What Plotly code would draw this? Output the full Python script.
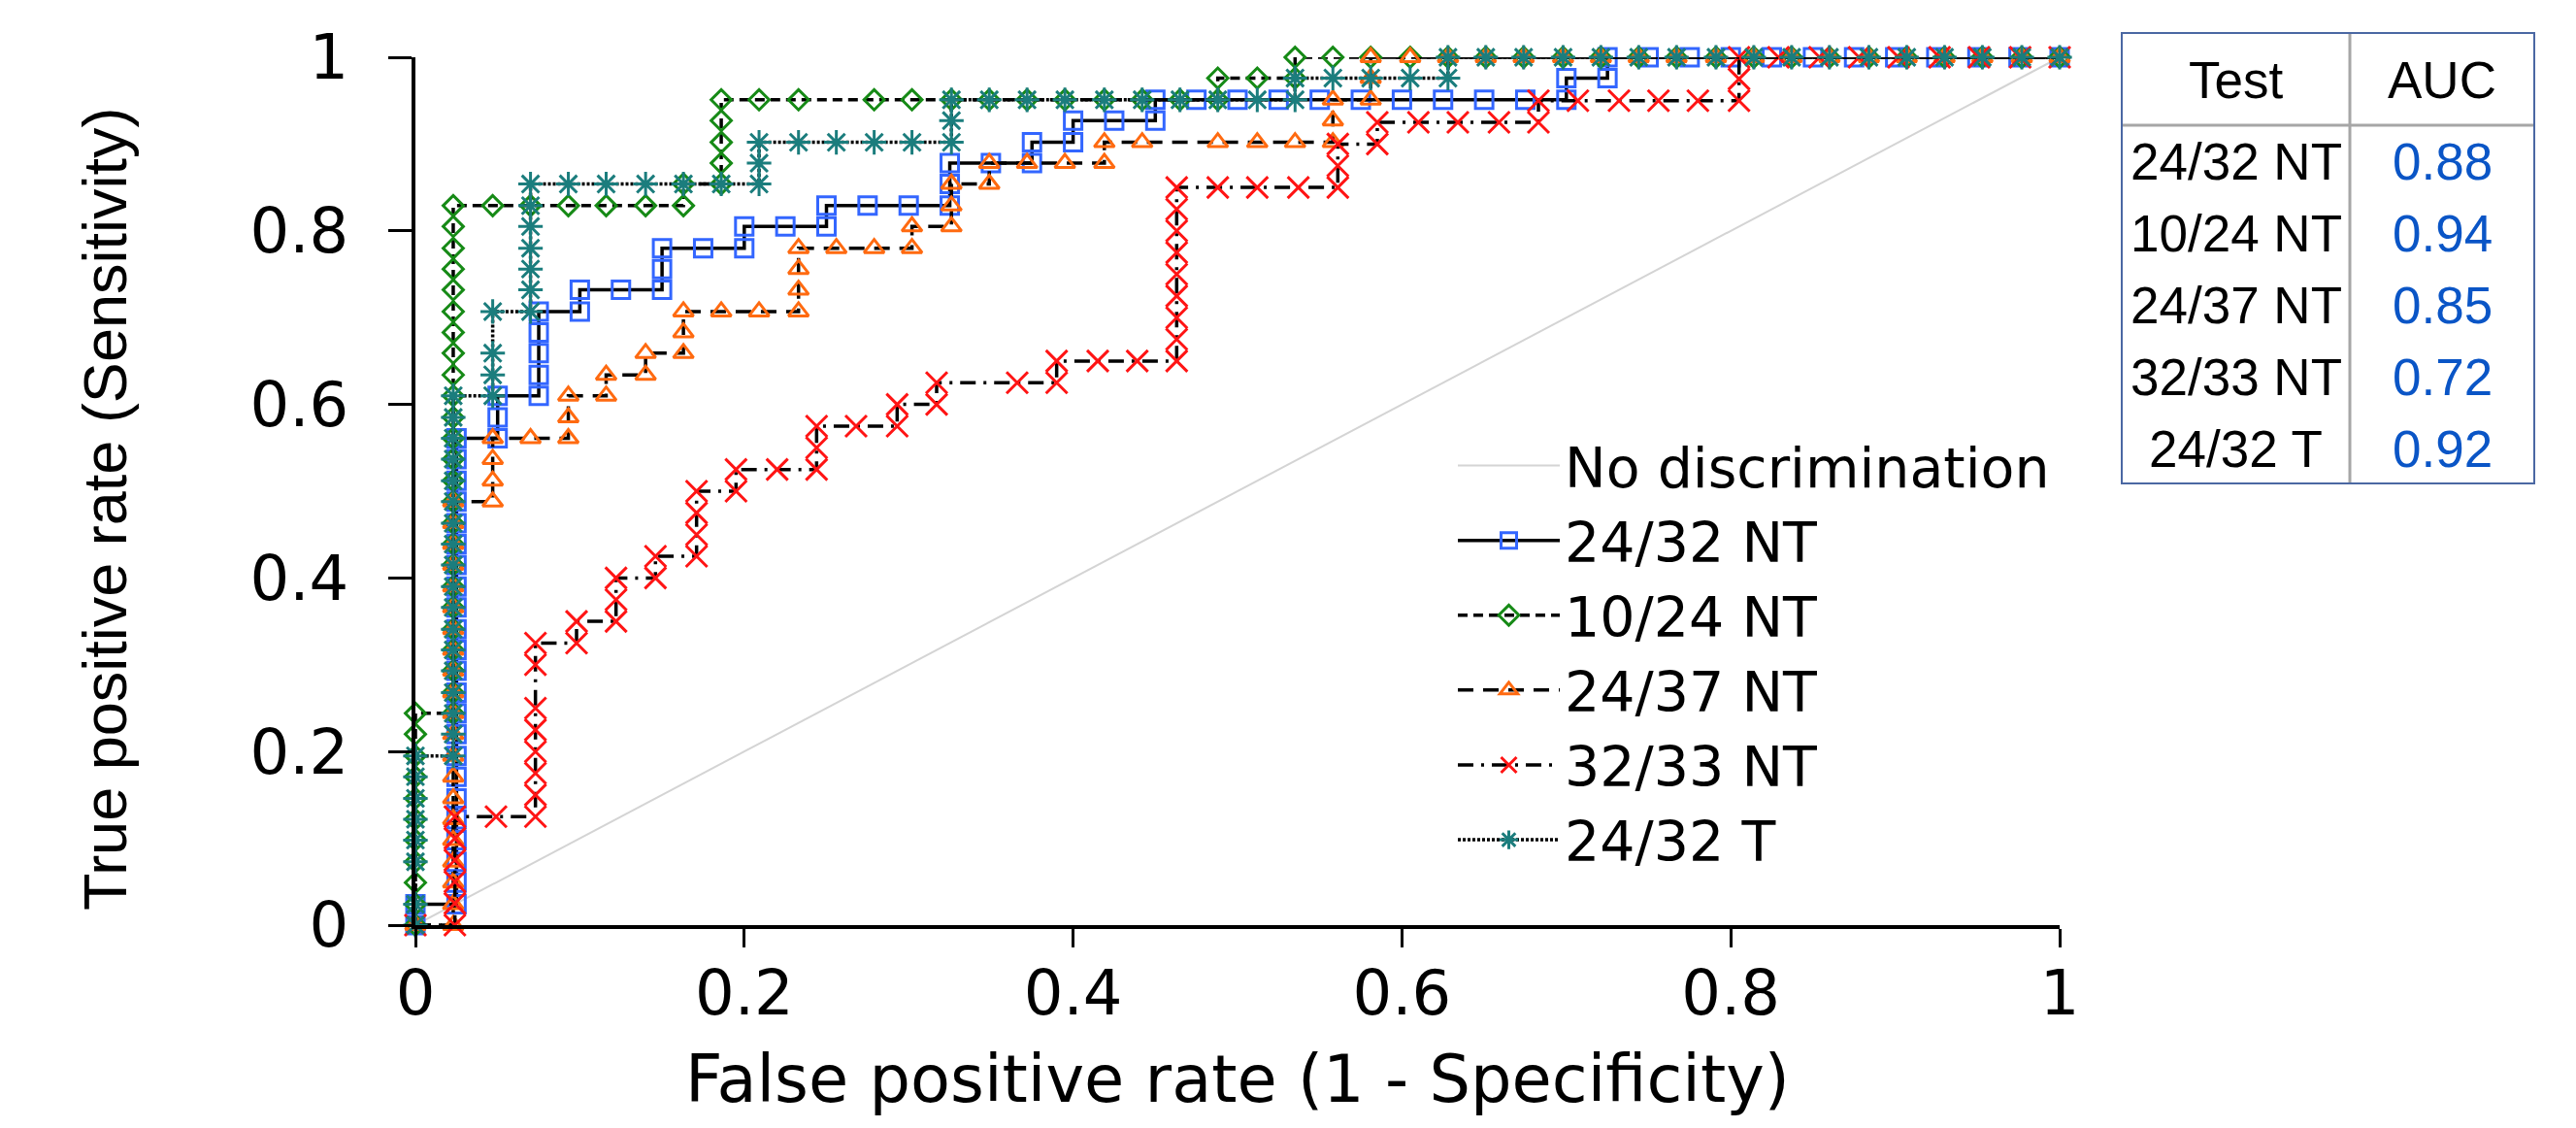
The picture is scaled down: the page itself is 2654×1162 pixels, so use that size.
import plotly.graph_objects as go

# ---------------- data ----------------
TESTS = ["24/32 NT", "10/24 NT", "24/37 NT", "32/33 NT", "24/32 T"]
AUC = [0.88, 0.94, 0.85, 0.72, 0.92]
TICKS = [0, 0.2, 0.4, 0.6, 0.8, 1]
TICK_LABELS = ["0", "0.2", "0.4", "0.6", "0.8", "1"]
DIAG_X = [0, 1]
DIAG_Y = [0, 1]

ROC_24_32_NT = [
    (0, 0), (0, 0.024), (0.025, 0.024), (0.025, 0.049), (0.025, 0.073), (0.025, 0.098), (0.025, 0.122),
    (0.025, 0.146), (0.025, 0.171), (0.025, 0.195), (0.025, 0.220), (0.025, 0.244), (0.025, 0.268),
    (0.025, 0.293), (0.025, 0.317), (0.025, 0.341), (0.025, 0.366), (0.025, 0.390), (0.025, 0.415),
    (0.025, 0.439), (0.025, 0.463), (0.025, 0.488), (0.025, 0.512), (0.025, 0.537), (0.025, 0.561),
    (0.050, 0.561), (0.050, 0.585), (0.050, 0.610), (0.075, 0.610), (0.075, 0.634), (0.075, 0.659),
    (0.075, 0.683), (0.075, 0.707), (0.100, 0.707), (0.100, 0.732), (0.125, 0.732), (0.150, 0.732),
    (0.150, 0.756), (0.150, 0.780), (0.175, 0.780), (0.200, 0.780), (0.200, 0.805), (0.225, 0.805),
    (0.250, 0.805), (0.250, 0.829), (0.275, 0.829), (0.300, 0.829), (0.325, 0.829), (0.325, 0.854),
    (0.325, 0.878), (0.350, 0.878), (0.375, 0.878), (0.375, 0.902), (0.400, 0.902), (0.400, 0.927),
    (0.425, 0.927), (0.450, 0.927), (0.450, 0.951), (0.475, 0.951), (0.500, 0.951), (0.525, 0.951),
    (0.550, 0.951), (0.575, 0.951), (0.600, 0.951), (0.625, 0.951), (0.650, 0.951), (0.675, 0.951),
    (0.700, 0.951), (0.700, 0.976), (0.725, 0.976), (0.725, 1), (0.750, 1), (0.775, 1), (0.800, 1),
    (0.825, 1), (0.850, 1), (0.875, 1), (0.900, 1), (0.925, 1), (0.950, 1), (0.975, 1), (1, 1),
]

ROC_10_24_NT = [
    (0, 0), (0, 0.024), (0, 0.049), (0, 0.073), (0, 0.098), (0, 0.122), (0, 0.146), (0, 0.171),
    (0, 0.195), (0, 0.220), (0, 0.244),
    (0.023, 0.244), (0.023, 0.268), (0.023, 0.293), (0.023, 0.317), (0.023, 0.341), (0.023, 0.366),
    (0.023, 0.390), (0.023, 0.415), (0.023, 0.439), (0.023, 0.463), (0.023, 0.488), (0.023, 0.512),
    (0.023, 0.537), (0.023, 0.561), (0.023, 0.585), (0.023, 0.610), (0.023, 0.634), (0.023, 0.659),
    (0.023, 0.683), (0.023, 0.707), (0.023, 0.732), (0.023, 0.756), (0.023, 0.780), (0.023, 0.805),
    (0.023, 0.829), (0.047, 0.829), (0.070, 0.829), (0.093, 0.829), (0.116, 0.829), (0.140, 0.829),
    (0.163, 0.829), (0.163, 0.854), (0.186, 0.854), (0.186, 0.878), (0.186, 0.902), (0.186, 0.927),
    (0.186, 0.951), (0.209, 0.951), (0.233, 0.951), (0.279, 0.951), (0.302, 0.951), (0.326, 0.951),
    (0.349, 0.951), (0.372, 0.951), (0.395, 0.951), (0.419, 0.951), (0.442, 0.951), (0.465, 0.951),
    (0.488, 0.951), (0.488, 0.976), (0.512, 0.976), (0.535, 0.976), (0.535, 1), (0.558, 1), (0.581, 1),
    (0.605, 1), (0.628, 1), (0.651, 1), (0.674, 1), (0.698, 1), (0.721, 1), (0.744, 1), (0.767, 1),
    (0.791, 1), (0.814, 1), (0.837, 1), (0.860, 1), (0.884, 1), (0.907, 1), (0.930, 1), (0.953, 1),
    (0.977, 1), (1, 1),
]

ROC_24_37_NT = [
    (0, 0), (0.023, 0), (0.023, 0.024), (0.023, 0.049), (0.023, 0.073), (0.023, 0.098), (0.023, 0.122),
    (0.023, 0.146), (0.023, 0.171), (0.023, 0.195), (0.023, 0.220), (0.023, 0.244), (0.023, 0.268),
    (0.023, 0.293), (0.023, 0.317), (0.023, 0.341), (0.023, 0.366), (0.023, 0.390), (0.023, 0.415),
    (0.023, 0.439), (0.023, 0.463), (0.023, 0.488),
    (0.047, 0.488), (0.047, 0.512), (0.047, 0.537), (0.047, 0.561), (0.070, 0.561), (0.093, 0.561),
    (0.093, 0.585), (0.093, 0.610), (0.116, 0.610), (0.116, 0.634), (0.140, 0.634), (0.140, 0.659),
    (0.163, 0.659), (0.163, 0.683), (0.163, 0.707), (0.186, 0.707), (0.209, 0.707), (0.233, 0.707),
    (0.233, 0.732), (0.233, 0.756), (0.233, 0.780), (0.256, 0.780), (0.279, 0.780), (0.302, 0.780),
    (0.302, 0.805), (0.326, 0.805), (0.326, 0.829), (0.326, 0.854), (0.349, 0.854), (0.349, 0.878),
    (0.372, 0.878), (0.395, 0.878), (0.419, 0.878), (0.419, 0.902), (0.442, 0.902), (0.488, 0.902),
    (0.512, 0.902), (0.535, 0.902), (0.558, 0.902), (0.558, 0.927), (0.558, 0.951), (0.581, 0.951),
    (0.581, 0.976), (0.581, 1), (0.605, 1), (0.628, 1), (0.651, 1), (0.674, 1), (0.698, 1), (0.721, 1),
    (0.744, 1), (0.767, 1), (0.791, 1), (0.814, 1), (0.837, 1), (0.860, 1), (0.884, 1), (0.907, 1),
    (0.930, 1), (0.953, 1), (0.977, 1), (1, 1),
]

ROC_32_33_NT = [
    (0, 0), (0.024, 0), (0.024, 0.025), (0.024, 0.050), (0.024, 0.075), (0.024, 0.100), (0.024, 0.125),
    (0.049, 0.125), (0.073, 0.125), (0.073, 0.150), (0.073, 0.175), (0.073, 0.200), (0.073, 0.225),
    (0.073, 0.250), (0.073, 0.300), (0.073, 0.325), (0.098, 0.325), (0.098, 0.350), (0.122, 0.350),
    (0.122, 0.375), (0.122, 0.400), (0.146, 0.400), (0.146, 0.425), (0.171, 0.425), (0.171, 0.450),
    (0.171, 0.475), (0.171, 0.500), (0.195, 0.500), (0.195, 0.525), (0.220, 0.525), (0.244, 0.525),
    (0.244, 0.550), (0.244, 0.575), (0.268, 0.575), (0.293, 0.575), (0.293, 0.600), (0.317, 0.600),
    (0.317, 0.625), (0.366, 0.625), (0.390, 0.625), (0.390, 0.650), (0.415, 0.650), (0.439, 0.650),
    (0.463, 0.650), (0.463, 0.675), (0.463, 0.700), (0.463, 0.725), (0.463, 0.750), (0.463, 0.775),
    (0.463, 0.800), (0.463, 0.825), (0.463, 0.850), (0.488, 0.850), (0.512, 0.850), (0.537, 0.850),
    (0.561, 0.850), (0.561, 0.875), (0.561, 0.900), (0.585, 0.900), (0.585, 0.925), (0.610, 0.925),
    (0.634, 0.925), (0.659, 0.925), (0.683, 0.925), (0.683, 0.950), (0.707, 0.950), (0.732, 0.950),
    (0.756, 0.950), (0.780, 0.950), (0.805, 0.950), (0.805, 0.975), (0.805, 1), (0.829, 1), (0.854, 1),
    (0.878, 1), (0.902, 1), (0.927, 1), (0.951, 1), (0.976, 1), (1, 1),
]

ROC_24_32_T = [
    (0, 0), (0, 0.024), (0, 0.073), (0, 0.098), (0, 0.122), (0, 0.146), (0, 0.171), (0, 0.195),
    (0.023, 0.195), (0.023, 0.220), (0.023, 0.244), (0.023, 0.268), (0.023, 0.293), (0.023, 0.317),
    (0.023, 0.341), (0.023, 0.366), (0.023, 0.390), (0.023, 0.415), (0.023, 0.439), (0.023, 0.463),
    (0.023, 0.488), (0.023, 0.512), (0.023, 0.537), (0.023, 0.561), (0.023, 0.585), (0.023, 0.610),
    (0.047, 0.610), (0.047, 0.634), (0.047, 0.659), (0.047, 0.707), (0.070, 0.707), (0.070, 0.732),
    (0.070, 0.756), (0.070, 0.780), (0.070, 0.805), (0.070, 0.829), (0.070, 0.854), (0.093, 0.854),
    (0.116, 0.854), (0.140, 0.854), (0.163, 0.854), (0.186, 0.854), (0.209, 0.854), (0.209, 0.878),
    (0.209, 0.902), (0.233, 0.902), (0.256, 0.902), (0.279, 0.902), (0.302, 0.902), (0.326, 0.902),
    (0.326, 0.927), (0.326, 0.951), (0.349, 0.951), (0.372, 0.951), (0.395, 0.951), (0.419, 0.951),
    (0.442, 0.951), (0.465, 0.951), (0.488, 0.951), (0.512, 0.951), (0.535, 0.951), (0.535, 0.976),
    (0.558, 0.976), (0.581, 0.976), (0.605, 0.976), (0.628, 0.976), (0.628, 1), (0.651, 1), (0.674, 1),
    (0.698, 1), (0.721, 1), (0.744, 1), (0.767, 1), (0.791, 1), (0.814, 1), (0.837, 1), (0.860, 1),
    (0.884, 1), (0.907, 1), (0.930, 1), (0.953, 1), (0.977, 1), (1, 1),
]

SERIES = [ROC_24_32_NT, ROC_10_24_NT, ROC_24_37_NT, ROC_32_33_NT, ROC_24_32_T]

# ---------------- styling ----------------
W, H = 2654, 1162
FONT_H = "DejaVu Sans"
STYLES = [
    dict(symbol="square-open", color="#3366ff", size=18, dash="solid"),
    dict(symbol="diamond-open", color="#168a16", size=16, dash="10px,6px"),
    dict(symbol="triangle-up-open", color="#ff6a10", size=18, dash="16px,10px"),
    dict(symbol="x-thin-open", color="#ff1414", size=22, dash="16px,8px,3px,8px"),
    dict(symbol="asterisk-open", color="#1b7d7d", size=21, dash="3px,2px"),
]


def px_x(p):
    return p / W


def px_y(p):
    return 1 - p / H


fig = go.Figure()

fig.add_trace(go.Scatter(
    x=DIAG_X, y=DIAG_Y, mode="lines", name="No discrimination",
    line=dict(color="#d4d4d4", width=2), hoverinfo="skip",
))

for name, pts, st in zip(TESTS, SERIES, STYLES):
    xs = [p[0] for p in pts]
    ys = [p[1] for p in pts]
    fig.add_trace(go.Scatter(
        x=xs, y=ys, mode="lines+markers", name=name, cliponaxis=False,
        line=dict(color="black", width=3.5, dash=st["dash"]),
        marker=dict(symbol=st["symbol"], size=st["size"], color=st["color"],
                    line=dict(color=st["color"], width=3)),
    ))

axis_common = dict(
    range=[0, 1], showline=True, linecolor="black", linewidth=4,
    ticks="outside", tickwidth=3, tickcolor="black",
    tickvals=TICKS, ticktext=TICK_LABELS,
    tickfont=dict(family=FONT_H, size=64, color="black"),
    showgrid=False, zeroline=False, fixedrange=True, automargin=False,
)

fig.update_layout(
    width=W, height=H, autosize=False,
    margin=dict(l=0, r=0, t=0, b=0, pad=0),
    paper_bgcolor="white", plot_bgcolor="white",
    xaxis=dict(domain=[428 / W, 2122 / W], anchor="y", ticklen=19, ticklabelstandoff=-8, **axis_common),
    yaxis=dict(domain=[1 - 953 / H, 1 - 59 / H], anchor="x", ticklen=24, ticklabelstandoff=28, **axis_common),
    showlegend=True,
    legend=dict(
        x=px_x(1497), y=px_y(436), xanchor="left", yanchor="top",
        font=dict(family=FONT_H, size=57, color="black"),
        itemwidth=105, bgcolor="rgba(0,0,0,0)", borderwidth=0, tracegroupgap=0,
    ),
)

annotations = [
    dict(text="True positive rate (Sensitivity)", x=px_x(108), y=px_y(525), xref="paper", yref="paper",
         textangle=-90, showarrow=False, xanchor="center", yanchor="middle",
         font=dict(family="Liberation Sans", size=63, color="black")),
    dict(text="False positive rate (1 - Specificity)", x=px_x(1275), y=px_y(1112), xref="paper", yref="paper",
         showarrow=False, xanchor="center", yanchor="middle",
         font=dict(family=FONT_H, size=67, color="black")),
]

# ---------------- AUC table ----------------
TX0, TX1, TXM = 2186, 2611, 2421
TY0, TY1, THY = 34, 498, 129
COL1_C, COL2_C = (TX0 + TXM) / 2, (TXM + TX1) / 2
HEAD_C = 82
ROW0_C, ROW_STEP = 167, 73.75
TFONT = "Liberation Sans"
TSIZE = 53

shapes = [
    dict(type="line", xref="paper", yref="paper", x0=px_x(TXM), x1=px_x(TXM), y0=px_y(TY0), y1=px_y(TY1),
         line=dict(color="#a6a6a6", width=3)),
    dict(type="line", xref="paper", yref="paper", x0=px_x(TX0), x1=px_x(TX1), y0=px_y(THY), y1=px_y(THY),
         line=dict(color="#a6a6a6", width=3)),
    dict(type="rect", xref="paper", yref="paper", x0=px_x(TX0), x1=px_x(TX1), y0=px_y(TY0), y1=px_y(TY1),
         line=dict(color="#4b68a3", width=2), fillcolor="rgba(0,0,0,0)"),
]

for txt, cx in (("Test", COL1_C), ("AUC", COL2_C)):
    annotations.append(dict(text=txt, x=px_x(cx), y=px_y(HEAD_C), xref="paper", yref="paper",
                            showarrow=False, xanchor="center", yanchor="middle",
                            font=dict(family=TFONT, size=TSIZE, color="black")))
for i, (t, a) in enumerate(zip(TESTS, AUC)):
    cy = ROW0_C + i * ROW_STEP
    annotations.append(dict(text=t, x=px_x(COL1_C), y=px_y(cy), xref="paper", yref="paper",
                            showarrow=False, xanchor="center", yanchor="middle",
                            font=dict(family=TFONT, size=TSIZE, color="black")))
    annotations.append(dict(text=f"{a:.2f}", x=px_x(COL2_C), y=px_y(cy), xref="paper", yref="paper",
                            showarrow=False, xanchor="center", yanchor="middle",
                            font=dict(family=TFONT, size=TSIZE, color="#0a55c6")))

fig.update_layout(annotations=annotations, shapes=shapes)

fig.write_html("out.html", include_plotlyjs=True, full_html=True,
               config={"displayModeBar": False},
               post_script="document.body.style.margin='0';document.body.style.overflow='hidden';")
